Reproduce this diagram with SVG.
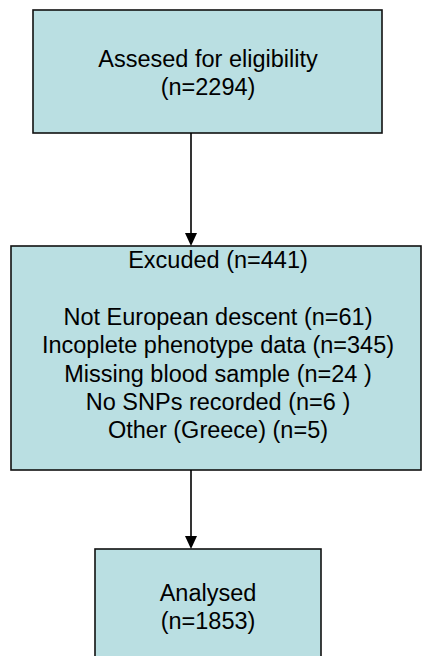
<svg xmlns="http://www.w3.org/2000/svg" width="422" height="656" viewBox="0 0 422 656">
  <style>
    .box { fill: #badfe2; stroke: #111; stroke-width: 1.6; }
    .t { font-family: "Liberation Sans", Arial, sans-serif; font-size: 23.5px; fill: #000; text-anchor: middle; }
    .edge { stroke: #000; stroke-width: 1.6; fill: none; }
  </style>
  <defs>
    <marker id="arr" markerUnits="userSpaceOnUse" markerWidth="12" markerHeight="14" refX="6" refY="13" orient="auto-start-reverse" viewBox="0 0 12 14">
      <path d="M0,0 L12,0 L6,13 Z" fill="#000" transform="rotate(-90 6 6.5)"/>
    </marker>
  </defs>
  <g id="assessed">
    <rect class="box" x="33" y="10" width="349" height="123"/>
    <text class="t" x="208" y="67">Assesed for eligibility</text>
    <text class="t" x="208" y="95">(n=2294)</text>
  </g>
  <g id="excluded">
    <rect class="box" x="11" y="246" width="410" height="224"/>
    <text class="t" x="218" y="268">Excuded (n=441)</text>
    <text class="t" x="218" y="325">Not European descent (n=61)</text>
    <text class="t" x="218" y="353">Incoplete phenotype data (n=345)</text>
    <text class="t" x="218" y="382">Missing blood sample (n=24 )</text>
    <text class="t" x="218" y="410">No SNPs recorded (n=6 )</text>
    <text class="t" x="218" y="438">Other (Greece) (n=5)</text>
  </g>
  <g id="analysed">
    <rect class="box" x="95" y="549" width="226" height="130"/>
    <text class="t" x="208" y="601">Analysed</text>
    <text class="t" x="208" y="629">(n=1853)</text>
  </g>
  <g id="connectors">
    <line class="edge" x1="191" y1="133" x2="191" y2="234"/>
    <path d="M185,233 L197,233 L191,246 Z" fill="#000"/>
    <line class="edge" x1="191" y1="470" x2="191" y2="537"/>
    <path d="M185,536 L197,536 L191,549 Z" fill="#000"/>
  </g>
</svg>
